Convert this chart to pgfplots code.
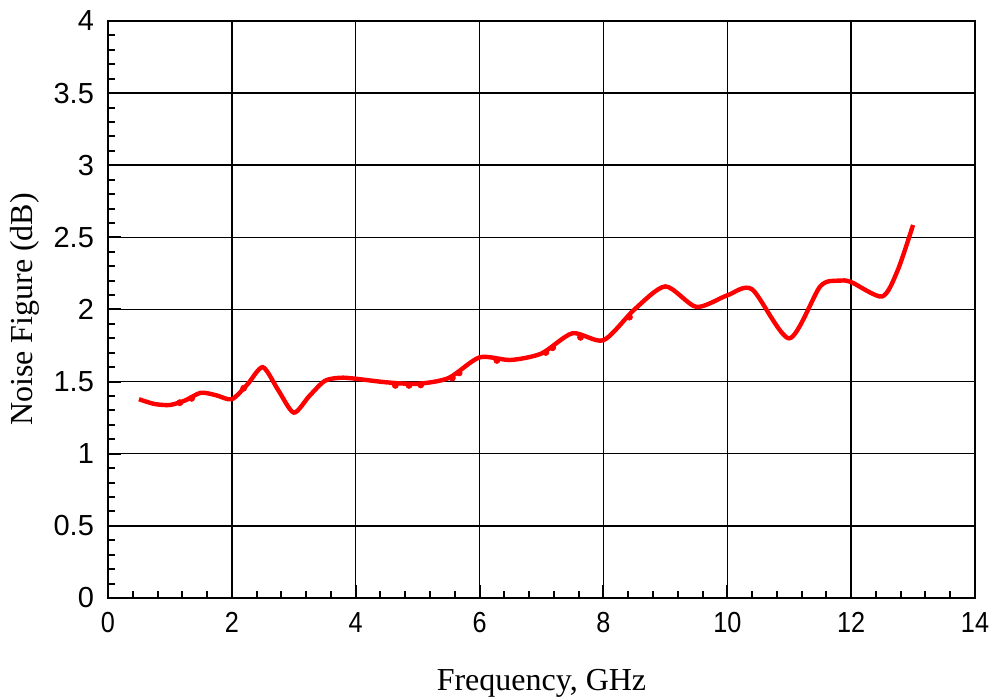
\documentclass[border=0pt]{standalone}
\usepackage{fontspec}
\setmainfont{Liberation Serif}
\newfontfamily\arialfont{Liberation Sans}
\usepackage{graphicx}
\usepackage{pgfplots}
\pgfplotsset{compat=1.18}
\begin{document}
\begin{tikzpicture}
\begin{axis}[
  scale only axis,
  width=433.5pt, height=288.5pt,
  xmin=0, xmax=14, ymin=0, ymax=4,
  xtick={0,2,...,14},
  ytick={0,0.5,...,4},
  minor x tick num=4,
  minor y tick num=4,
  tick pos=left,
  tick align=inside,
  major tick length=6.5pt,
  minor tick length=3.5pt,
  every tick/.style={black, line width=1pt},
  grid=major,
  major grid style={black, line width=0.75pt},
  axis line style={black, line width=1.3pt},
  /pgf/number format/assume math mode=true,
  yticklabel style={font=\arialfont\fontsize{14.5}{14.5}\selectfont, xshift=-3.5pt},
  xticklabel style={font=\arialfont\fontsize{14.5}{14.5}\selectfont, yshift=-3.8pt},
  xticklabel={\scalebox{0.87}[1]{\pgfmathprintnumber{\tick}}},
  yticklabel style={/pgf/number format/fixed},
  xlabel={Frequency, GHz},
  ylabel={Noise Figure (dB)},
  label style={font=\fontsize{16}{16}\selectfont},
  x label style={at={(axis description cs:0.5,-0.1473)}, anchor=center},
  y label style={at={(axis description cs:-0.0957,0.5)}, anchor=center},
]
\addplot[red, line width=2.2pt, smooth, tension=0.45] coordinates {
(0.5,1.378) (0.75,1.345) (1.0,1.338) (1.25,1.37) (1.5,1.423) (1.75,1.405)
(2.0,1.378) (2.25,1.48) (2.5,1.600) (2.75,1.44) (3.0,1.285) (3.25,1.40)
(3.5,1.505) (3.75,1.527) (4.0,1.52) (4.5,1.495) (5.0,1.485) (5.5,1.525)
(6.0,1.668) (6.5,1.650) (7.0,1.695) (7.5,1.835) (8.0,1.787) (8.5,2.00)
(9.0,2.160) (9.5,2.018) (10.0,2.098) (10.4,2.140) (11.0,1.80) (11.5,2.160)
(11.8,2.200) (12.0,2.19) (12.5,2.090) (12.75,2.27) (13.0,2.586)
};
\addplot[only marks, red, mark=*, mark size=1.5pt] coordinates {
(1.16,1.354) (1.35,1.384) (2.19,1.454) (4.64,1.474) (4.86,1.474) (5.05,1.477)
(5.56,1.525) (5.67,1.56) (6.28,1.647) (7.07,1.702) (7.18,1.735) (7.63,1.807)
(8.42,1.947)
};
\end{axis}
\pgfresetboundingbox
\path ([shift={(-54pt,-50pt)}]current axis.south west) rectangle ([shift={(7.5pt,10.5pt)}]current axis.north east);
\end{tikzpicture}
\end{document}
